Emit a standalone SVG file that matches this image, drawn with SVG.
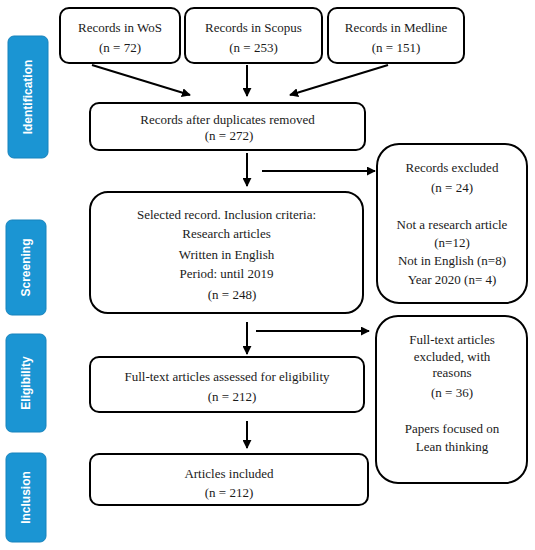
<svg xmlns="http://www.w3.org/2000/svg" width="535" height="550" viewBox="0 0 535 550">
<defs>
<marker id="ah" viewBox="0 0 10 10" refX="9" refY="5" markerWidth="4.5" markerHeight="4.5" orient="auto" markerUnits="strokeWidth">
<path d="M0,0 L10,5 L0,10 z" fill="#000"/>
</marker>
<style>
.box{fill:#fff;stroke:#000;stroke-width:2}
.side{fill:#1b95d3;stroke:#1783bd;stroke-width:1}
.t{font-family:"Liberation Serif","Times New Roman",serif;font-size:13px;fill:#1a1a1a;text-anchor:middle}
.s{font-family:"Liberation Sans",Arial,sans-serif;font-size:12px;font-weight:bold;fill:#fff;text-anchor:middle}
.c{stroke:#000;stroke-width:2;fill:none;marker-end:url(#ah)}
</style>
</defs>
<rect width="535" height="550" fill="#fff"/>
<g id="stage-identification"><rect class="side" x="8" y="36" width="40" height="122" rx="6"/><text class="s" transform="translate(32,97) rotate(-90)">Identification</text></g>
<g id="stage-screening"><rect class="side" x="6" y="220" width="40" height="95" rx="6"/><text class="s" transform="translate(30,267.5) rotate(-90)">Screening</text></g>
<g id="stage-eligibility"><rect class="side" x="6" y="334" width="40" height="98" rx="6"/><text class="s" transform="translate(30,383) rotate(-90)">Eligibility</text></g>
<g id="stage-inclusion"><rect class="side" x="6" y="453" width="40" height="89" rx="6"/><text class="s" transform="translate(30,497.5) rotate(-90)">Inclusion</text></g>

<g id="wos"><rect class="box" x="60" y="8" width="120" height="55" rx="9"/><text class="t" x="120" y="32">Records in WoS</text><text class="t" x="120" y="52">(n = 72)</text></g>
<g id="scopus"><rect class="box" x="185" y="8" width="137" height="55" rx="9"/><text class="t" x="253.5" y="32">Records in Scopus</text><text class="t" x="253.5" y="52">(n = 253)</text></g>
<g id="medline"><rect class="box" x="328" y="8" width="136" height="55" rx="9"/><text class="t" x="396" y="32">Records in Medline</text><text class="t" x="396" y="52">(n = 151)</text></g>
<g id="dedup"><rect class="box" x="90" y="103" width="275" height="47" rx="9"/><text class="t" x="227.5" y="124">Records after duplicates removed</text><text class="t" x="229" y="140">(n = 272)</text></g>
<g id="excluded1"><rect class="box" x="377" y="144" width="150" height="159" rx="22"/><text class="t" x="452" y="172">Records excluded</text><text class="t" x="452" y="192">(n = 24)</text><text class="t" x="452" y="229">Not a research article</text><text class="t" x="452" y="247">(n=12)</text><text class="t" x="452" y="265">Not in English (n=8)</text><text class="t" x="452" y="284">Year 2020 (n= 4)</text></g>
<g id="selected"><rect class="box" x="90" y="192" width="273" height="121" rx="18"/><text class="t" x="226.5" y="219">Selected record. Inclusion criteria:</text><text class="t" x="226.5" y="238">Research articles</text><text class="t" x="226.5" y="259">Written in English</text><text class="t" x="226.5" y="278">Period: until 2019</text><text class="t" x="232" y="299">(n = 248)</text></g>
<g id="fulltext"><rect class="box" x="90" y="357" width="274" height="55" rx="9"/><text class="t" x="227" y="381">Full-text articles assessed for eligibility</text><text class="t" x="232" y="401">(n = 212)</text></g>
<g id="included"><rect class="box" x="90" y="454" width="278" height="51" rx="9"/><text class="t" x="229" y="478">Articles included</text><text class="t" x="229" y="497">(n = 212)</text></g>
<g id="excluded2"><rect class="box" x="376" y="316" width="151" height="167" rx="22"/><text class="t" x="452" y="344">Full-text articles</text><text class="t" x="452" y="361">excluded, with</text><text class="t" x="452" y="377">reasons</text><text class="t" x="452" y="397">(n = 36)</text><text class="t" x="452" y="433">Papers focused on</text><text class="t" x="452" y="451">Lean thinking</text></g>

<g id="connectors">
<line class="c" x1="92" y1="65" x2="190" y2="95"/>
<line class="c" x1="247" y1="65" x2="247" y2="96"/>
<line class="c" x1="388" y1="65" x2="290" y2="95"/>
<line class="c" x1="247" y1="153" x2="247" y2="186"/>
<line class="c" x1="262" y1="171" x2="375" y2="171"/>
<line class="c" x1="247" y1="322" x2="247" y2="354"/>
<line class="c" x1="256" y1="331" x2="369" y2="331"/>
<line class="c" x1="247" y1="421" x2="247" y2="448"/>
</g>
</svg>
